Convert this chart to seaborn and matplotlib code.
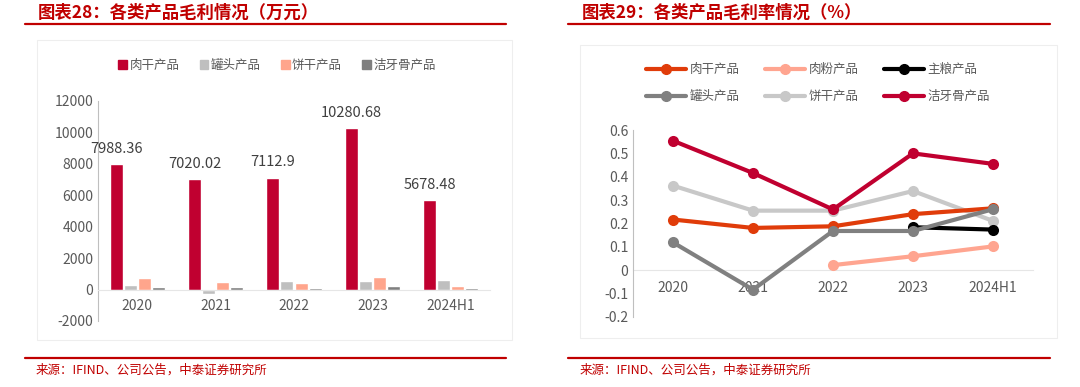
import pandas as pd
import seaborn as sns
import matplotlib.pyplot as plt
from matplotlib.lines import Line2D
from matplotlib.patches import Rectangle, Patch

years = ['2020', '2021', '2022', '2023', '2024H1']

# gross profit (10k yuan)
bar_products = ['肉干产品', '罐头产品', '饼干产品', '洁牙骨产品']
jerky_profit = [7988.36, 7020.02, 7112.9, 10280.68, 5678.48]
canned_profit = [320, -300, 550, 530, 590]
biscuit_profit = [740, 490, 445, 800, 230]
dental_profit = [170, 150, 100, 230, 120]
bar_colors = ['#C00030', '#BFBFBF', '#FFA58C', '#7F7F7F']

# gross margin
line_products = ['肉干产品', '肉粉产品', '主粮产品', '罐头产品', '饼干产品', '洁牙骨产品']
jerky_margin = [0.217, 0.181, 0.188, 0.240, 0.265]
powder_margin = [None, None, 0.022, 0.060, 0.102]
food_margin = [None, None, None, 0.184, 0.174]
canned_margin = [0.119, -0.083, 0.168, 0.168, 0.261]
biscuit_margin = [0.362, 0.255, 0.255, 0.339, 0.211]
dental_margin = [0.554, 0.416, 0.260, 0.500, 0.455]
line_colors = ['#E03C0A', '#FFA590', '#000000', '#808080', '#C8C8C8', '#C00030']

sns.set_style('white')
plt.rcParams['font.family'] = ['Noto Sans CJK SC', 'DejaVu Sans']
plt.rcParams['axes.unicode_minus'] = False

red = '#C00000'
tick_grey = '#595959'

fig = plt.figure(figsize=(10.8, 3.87), dpi=100)
W, H = 1080, 387

def fx(px):
    return px / W

def fy(py):
    return 1 - py / H

# headers, rules and sources
for x0, x1, tx, title in [(25, 506, 38, '图表28：各类产品毛利情况（万元）'),
                          (568, 1050, 582, '图表29：各类产品毛利率情况（%）')]:
    fig.add_artist(Line2D([fx(x0), fx(x1)], [fy(24), fy(24)], color=red, lw=1.6))
    fig.add_artist(Line2D([fx(x0), fx(x1)], [fy(358), fy(358)], color=red, lw=1.6))
    fig.text(fx(tx), fy(13), title, color=red, fontsize=12.5, fontweight='bold',
             style='italic', va='center', ha='left')
    fig.text(fx(tx - 2), fy(370), '来源：IFIND、公司公告，中泰证券研究所', color=red,
             fontsize=9, va='center', ha='left')

# faint panel frames
fig.add_artist(Rectangle((fx(37), fy(340)), fx(475), 300 / H, transform=fig.transFigure,
                         fill=False, ec='#EEEEEE', lw=0.8))
fig.add_artist(Rectangle((fx(580), fy(338)), fx(477), 293 / H, transform=fig.transFigure,
                         fill=False, ec='#EEEEEE', lw=0.8))

# ---- left: grouped bars ----
bar_df = pd.DataFrame({'年份': years * 4,
                       '产品': [p for p in bar_products for _ in years],
                       '毛利': jerky_profit + canned_profit + biscuit_profit + dental_profit})

ax1 = fig.add_axes([fx(98), fy(321), fx(392), 220 / H])
sns.barplot(data=bar_df, x='年份', y='毛利', hue='产品', palette=bar_colors,
            width=0.72, gap=0.08, saturation=1, ax=ax1, legend=False)
ax1.set_xlim(-0.5, 4.5)
ax1.set_ylim(-2000, 12000)
ax1.set_yticks(range(-2000, 12001, 2000))
ax1.set_xlabel('')
ax1.set_ylabel('')
for s in ['top', 'right']:
    ax1.spines[s].set_visible(False)
ax1.spines['left'].set_color('#BFBFBF')
ax1.spines['bottom'].set_position(('data', 0))
ax1.spines['bottom'].set_color('#E6E6E6')
ax1.tick_params(axis='both', colors=tick_grey, labelsize=10, length=0)
ax1.tick_params(axis='y', length=4, color='#BFBFBF', direction='in')
ax1.tick_params(axis='x', pad=7)
for lab in ax1.get_xticklabels():
    lab.set_color(tick_grey)

jerky_bars = ax1.containers[0]
ax1.bar_label(jerky_bars, labels=[f'{v:.2f}'.rstrip('0').rstrip('.') for v in jerky_profit],
              padding=6, fontsize=10.5, color='#404040')

handles = [Patch(color=c, label=p) for c, p in zip(bar_colors, bar_products)]
fig.legend(handles=handles, loc='center', bbox_to_anchor=(fx(277), fy(65)), ncol=4,
           frameon=False, fontsize=9, handlelength=0.7, handleheight=0.7,
           handletextpad=0.2, columnspacing=1.6, labelcolor=tick_grey)

# ---- right: margin lines ----
margins = [jerky_margin, powder_margin, food_margin, canned_margin, biscuit_margin, dental_margin]
rows = []
for p, vals in zip(line_products, margins):
    for i, v in enumerate(vals):
        if v is not None:
            rows.append({'x': i, '产品': p, '毛利率': v})
line_df = pd.DataFrame(rows)

ax2 = fig.add_axes([fx(633), fy(317), fx(400), 187 / H])
draw_order = ['肉粉产品', '饼干产品', '主粮产品', '肉干产品', '罐头产品', '洁牙骨产品']
pal = dict(zip(line_products, line_colors))
for p in draw_order:
    sub = line_df[line_df['产品'] == p]
    sns.lineplot(data=sub, x='x', y='毛利率', color=pal[p], lw=3, marker='o',
                 markersize=8, markeredgewidth=0, ax=ax2, legend=False)
ax2.set_xlim(-0.5, 4.5)
ax2.set_ylim(-0.2, 0.6)
ax2.set_yticks([-0.2, -0.1, 0, 0.1, 0.2, 0.3, 0.4, 0.5, 0.6])
ax2.set_yticklabels(['-0.2', '-0.1', '0', '0.1', '0.2', '0.3', '0.4', '0.5', '0.6'])
ax2.set_xticks(range(len(years)))
ax2.set_xticklabels(years)
ax2.set_xlabel('')
ax2.set_ylabel('')
for s in ['top', 'right']:
    ax2.spines[s].set_visible(False)
ax2.spines['left'].set_color('#BFBFBF')
ax2.spines['bottom'].set_position(('data', 0))
ax2.spines['bottom'].set_color('#E6E6E6')
ax2.spines['bottom'].set_zorder(0)
ax2.tick_params(axis='both', colors=tick_grey, labelsize=10, length=0)
ax2.tick_params(axis='y', length=4, color='#BFBFBF', direction='in')
ax2.tick_params(axis='x', pad=8)

lhandles = [Line2D([0], [0], color=c, lw=3, marker='o', markersize=7, label=p)
            for c, p in zip(line_colors, line_products)]
# legend fills column-first; reorder so rows read left to right
lhandles = [lhandles[i] for i in [0, 3, 1, 4, 2, 5]]
fig.legend(handles=lhandles, loc='center', bbox_to_anchor=(fx(818), fy(83)), ncol=3,
           frameon=False, fontsize=9, handlelength=3.2, handletextpad=0.3,
           columnspacing=2.0, labelspacing=1.1, labelcolor=tick_grey)

fig.savefig('out.png', dpi=100)
